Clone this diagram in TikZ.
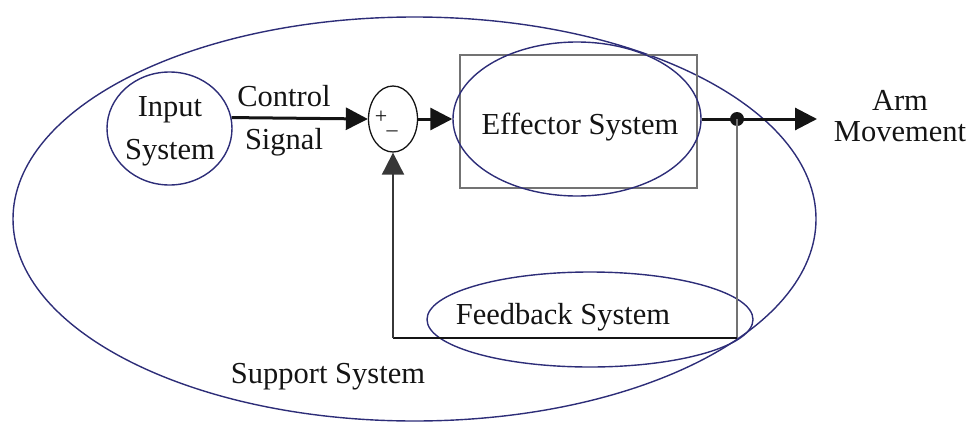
\documentclass[tikz,border=0pt]{standalone}
\usepackage{fontspec}
\setmainfont{Liberation Serif}
\usetikzlibrary{shapes.geometric,arrows.meta}

\definecolor{navy}{RGB}{45,45,120}
\definecolor{ink}{RGB}{20,20,20}
\definecolor{wire}{RGB}{115,115,115}

\tikzset{
  sysell/.style={draw=navy, line width=1.4pt, ellipse, inner sep=0pt},
  lbl/.style={font=\fontsize{30.5}{43}\selectfont, inner sep=0pt, align=center, text=ink},
  signmark/.style={font=\fontsize{22}{22}\selectfont, inner sep=0pt, text=ink},
  tip/.style={-{Triangle[length=22pt,width=22pt]}},
  sig/.style={draw=ink, line width=3pt},
  fb/.style={draw=wire, line width=2pt},
}

\begin{document}
\begin{tikzpicture}[x=1pt,y=-1pt]
  \useasboundingbox (0,0) rectangle (973,423);

  % outer support system
  \node[sysell, minimum width=803pt, minimum height=404pt] (support) at (414.5,219) {};
  \node[lbl] (supporttxt) at (328,377) {Support System};

  % input system
  \node[sysell, minimum width=125pt, minimum height=113pt] (input) at (169.5,128.5) {};
  \node[lbl] (inputtxt) at (170,131) {Input\\System};

  % control signal label
  \node[lbl] (ctrltxt) at (284,121) {Control\\Signal};

  % summing junction
  \node[draw=ink, line width=1.3pt, ellipse, minimum width=49pt, minimum height=66pt, inner sep=0pt] (sum) at (393,119) {};
  \node[signmark] (plus) at (381,117) {+};
  \node[signmark] (minus) at (392,134) {–};

  % effector system inside its box
  \node[draw=wire, line width=2pt, rectangle, minimum width=237pt, minimum height=133pt, inner sep=0pt] (effbox) at (578.5,121.5) {};
  \node[sysell, minimum width=248pt, minimum height=154pt] (effector) at (577,119) {};
  \node[lbl] (efftxt) at (580,127) {Effector System};

  % feedback system
  \node[sysell, minimum width=326pt, minimum height=95pt] (feedback) at (590,319.5) {};
  \node[lbl] (fbtxt) at (563,317) {Feedback System};

  % output label
  \node[lbl, font=\fontsize{30.5}{31}\selectfont] (armtxt) at (900,116) {Arm\\Movement};

  % branch point and path corners
  \coordinate (armtip) at (817,119);
  \node[circle, fill=ink, minimum size=14pt, inner sep=0pt] (junction) at (737,119) {};
  \coordinate (fbR) at (737,338);
  \coordinate (fbL) at (393,338);

  % forward path
  \draw[sig, tip] (input.10) -- (sum.west);
  \draw[sig, tip] (sum.east) -- (effector.west);
  \draw[sig, tip] (effector.east) -- (armtip);

  % feedback path
  \draw[fb] (junction.center) -- (fbR);
  \draw[draw=ink, line width=2pt] (fbR) -- (fbL);
  \draw[fb, draw=ink!85, tip] (fbL) -- (sum.south);
\end{tikzpicture}
\end{document}
